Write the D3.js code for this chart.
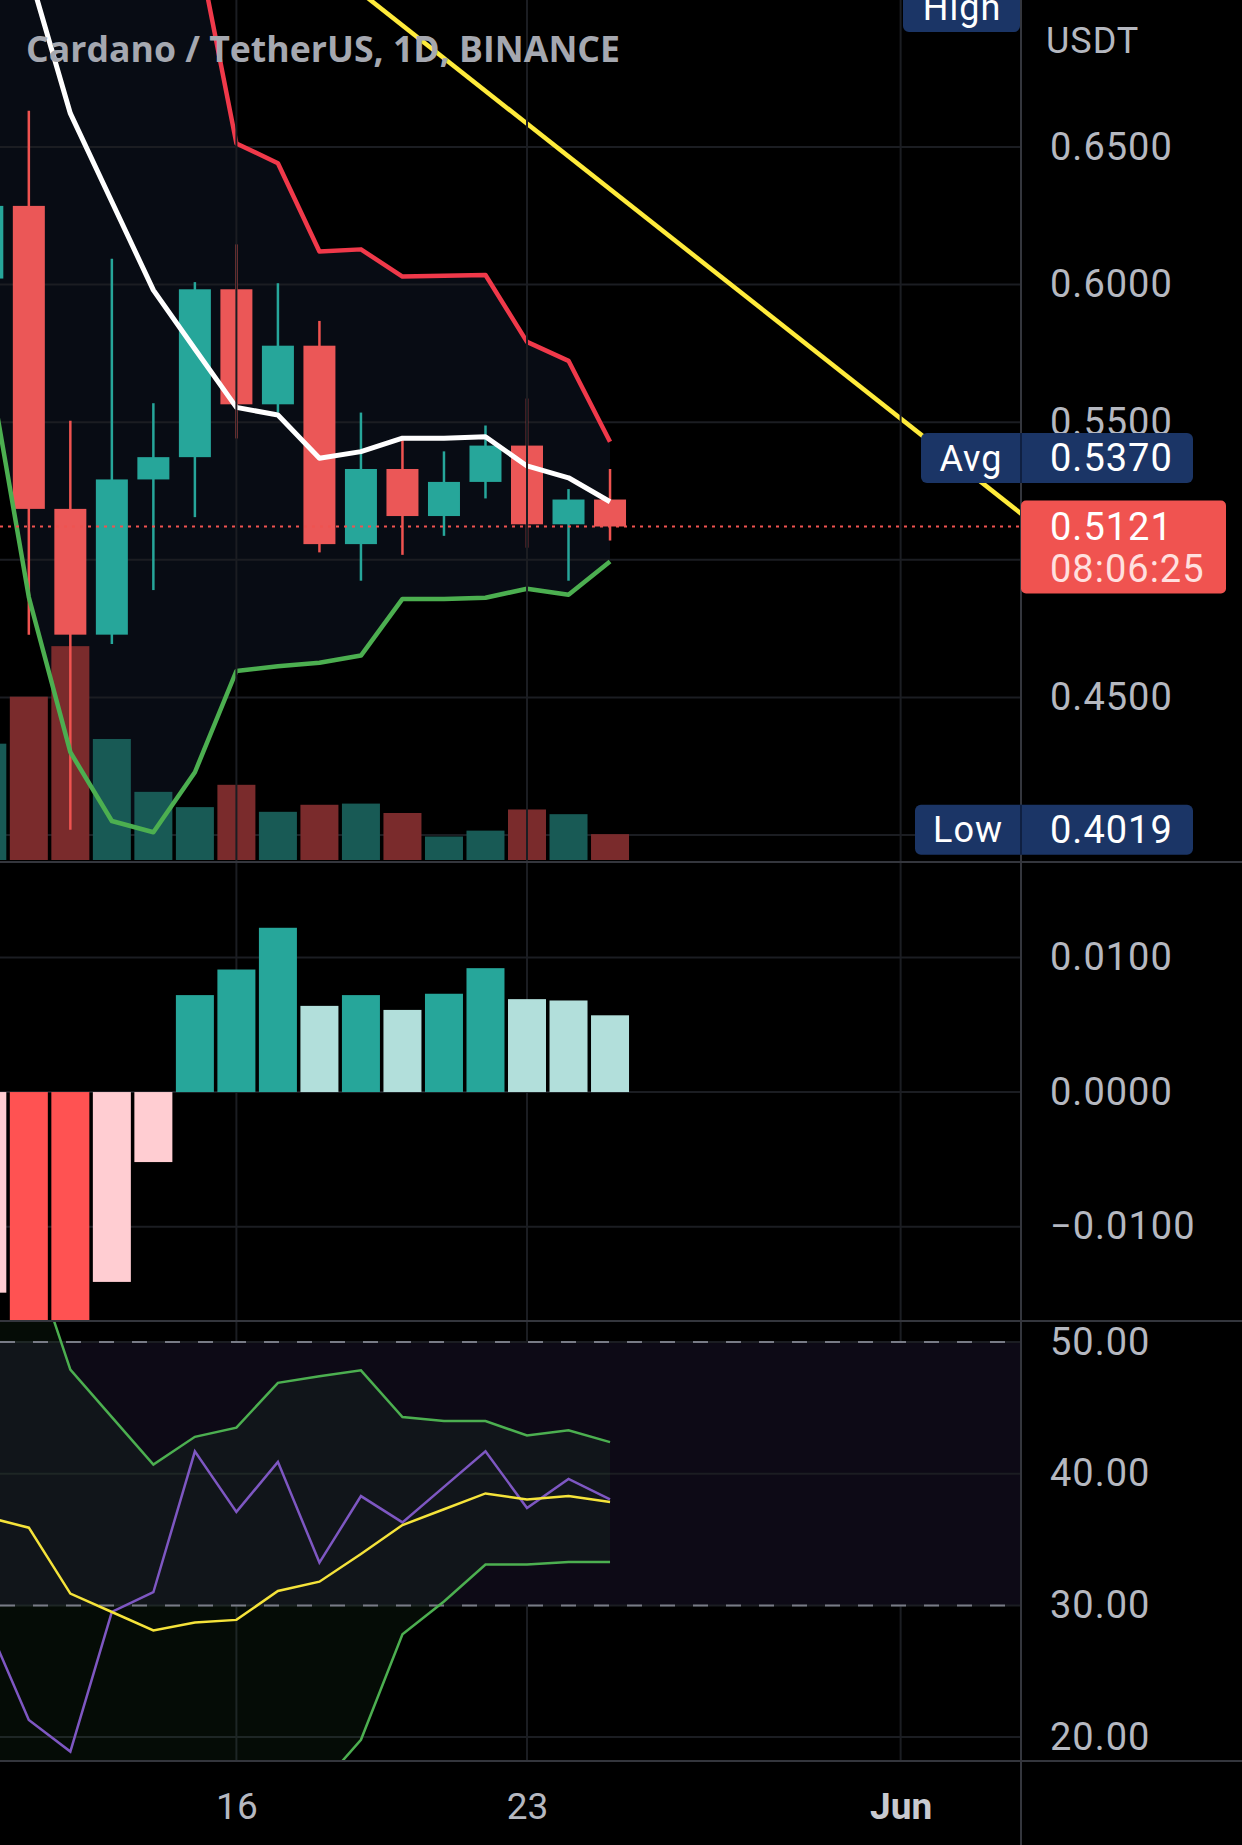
<!DOCTYPE html>
<html><head><meta charset="utf-8">
<script src="https://cdn.jsdelivr.net/npm/d3@7"></script>
<style>html,body{margin:0;padding:0;background:#000;}svg{display:block}</style>
</head><body>
<script>
// ---------- DATA ----------
const dates = ["2022-05-10","2022-05-11","2022-05-12","2022-05-13","2022-05-14","2022-05-15","2022-05-16","2022-05-17","2022-05-18","2022-05-19","2022-05-20","2022-05-21","2022-05-22","2022-05-23","2022-05-24","2022-05-25"];
const openP  = [0.6022,0.6286,0.5185,0.4728,0.5292,0.5373,0.5983,0.5565,0.5778,0.5057,0.5330,0.5159,0.5283,0.5415,0.5129,0.5219];
const highP  = [0.6400,0.6632,0.5505,0.6094,0.5569,0.6009,0.6146,0.6005,0.5868,0.5535,0.5450,0.5394,0.5488,0.5586,0.5257,0.5330];
const lowP   = [0.5950,0.4728,0.4019,0.4694,0.4890,0.5155,0.5441,0.5535,0.5027,0.4924,0.5018,0.5087,0.5223,0.5044,0.4924,0.5070];
const closeP = [0.6286,0.5185,0.4728,0.5292,0.5373,0.5983,0.5565,0.5778,0.5057,0.5330,0.5159,0.5283,0.5415,0.5129,0.5219,0.5121];
const volume = [990,1390,1820,1030,580,450,640,410,470,480,400,200,250,430,390,220];
const upperBand = [0.86,0.84,0.82,0.80,0.77,0.728,0.6513,0.6441,0.6120,0.6128,0.6029,0.6032,0.6035,0.5792,0.5723,0.5429];
const midBand   = [0.77,0.7139,0.6622,0.6301,0.5980,0.5766,0.5554,0.5526,0.5369,0.5393,0.5442,0.5442,0.5447,0.5341,0.5298,0.5211];
const lowerBand = [0.5736,0.4864,0.4301,0.4051,0.4010,0.4228,0.4596,0.4613,0.4626,0.4652,0.4858,0.4858,0.4862,0.4895,0.4873,0.4994];
const macdHist  = [-0.0149,-0.0178,-0.0192,-0.0141,-0.0052,0.0072,0.0091,0.0122,0.0064,0.0072,0.0061,0.0073,0.0092,0.0069,0.0068,0.0057];
const rsi       = [28.6,21.3,18.9,29.5,31.0,41.7,37.1,40.9,33.25,38.3,36.3,39.0,41.7,37.4,39.6,38.05];
const rsiMA     = [36.7,35.9,30.9,29.5,28.1,28.7,28.9,31.1,31.8,33.9,36.1,37.3,38.5,38.05,38.3,37.85];
const rsiUpper  = [60.0,57.3,47.9,44.3,40.7,42.8,43.5,46.9,47.4,47.85,44.3,44.0,44.0,42.9,43.3,42.4];
const rsiLower  = [13.4,14.5,13.9,14.7,15.5,14.6,14.3,15.3,16.2,19.8,27.8,30.3,33.1,33.1,33.3,33.3];
const trendDates = ["2022-05-18","2022-06-05"];
const trendPrices = [0.7180,0.5037];
const priceGrid = [0.65,0.60,0.55,0.50,0.45,0.40];
const priceTickLabels = [0.65,0.60,0.55,0.45];
const macdTicks = [0.01,0,-0.01];
const rsiTicks = [50,40,30,20];
const rsiBandLevels = [50,30];
const timeTicks = ["2022-05-16","2022-05-23","2022-06-01"];
const lastPrice = 0.5121, avgPrice = 0.5370, lowPrice = 0.4019, highPrice = 0.7009;
const countdown = "08:06:25";
const title = "Cardano / TetherUS, 1D, BINANCE";

// ---------- LAYOUT ----------
const W = 1242, H = 1845, plotR = 1021, axisX = 1050;
const P = {top:0, bot:862}, M = {top:862, bot:1321}, R = {top:1321, bot:1761};

const x = d3.scaleUtc().domain([new Date("2022-05-16"), new Date("2022-05-23")]).range([236.4, 527]);
const yP = d3.scaleLinear().domain([0.40, 0.65]).range([835, 147]);
const yV = d3.scaleLinear().domain([0, 2000]).range([860, 860-235]);
const yM = d3.scaleLinear().domain([-0.01, 0.01]).range([1226.7, 957.4]);
const yR = d3.scaleLinear().domain([20, 50]).range([1737.1, 1342]);

const data = dates.map((d,i)=>({date:new Date(d), o:openP[i], h:highP[i], l:lowP[i], c:closeP[i], v:volume[i],
  up:upperBand[i], mid:midBand[i], lo:lowerBand[i], hist:macdHist[i], rsi:rsi[i], ma:rsiMA[i], ru:rsiUpper[i], rl:rsiLower[i]}));

const TEAL="#26a69a", RED="#ef5350", GRID="#1b1d22", SEP="#34363d", AXT="#b5b8c0";

const svg = d3.select("body").append("svg").attr("width",W).attr("height",H).style("background","#000");
const defs = svg.append("defs");
function clip(id, y0, y1){ defs.append("clipPath").attr("id",id).append("rect").attr("x",0).attr("y",y0).attr("width",plotR).attr("height",y1-y0); }
clip("cp",P.top,P.bot); clip("cm",M.top,M.bot); clip("cr",R.top,R.bot);

// ---------- PRICE PANE ----------
const gp = svg.append("g").attr("clip-path","url(#cp)");
gp.append("path").datum(data).attr("fill","#080c14")
  .attr("d", d3.area().x(d=>x(d.date)).y0(d=>yP(d.lo)).y1(d=>yP(d.up)));
gp.selectAll(".hg").data(priceGrid).join("line").attr("x1",0).attr("x2",plotR)
  .attr("y1",d=>yP(d)).attr("y2",d=>yP(d)).attr("stroke",GRID).attr("stroke-width",2);
const vgrid = svg.append("g");
vgrid.selectAll("line").data(timeTicks).join("line").attr("x1",d=>x(new Date(d))).attr("x2",d=>x(new Date(d)))
  .attr("y1",0).attr("y2",R.bot).attr("stroke",GRID).attr("stroke-width",2);
const bw = 38;
gp.selectAll(".vol").data(data).join("rect").attr("x",d=>x(d.date)-bw/2).attr("width",bw)
  .attr("y",d=>yV(d.v)).attr("height",d=>yV(0)-yV(d.v))
  .attr("fill",d=>d.c>=d.o?"#185a55":"#7a2b2c");
gp.selectAll(".wick").data(data).join("line").attr("x1",d=>x(d.date)).attr("x2",d=>x(d.date))
  .attr("y1",d=>yP(d.h)).attr("y2",d=>yP(d.l)).attr("stroke",d=>d.c>=d.o?TEAL:RED).attr("stroke-width",2.5);
const cw = 32;
gp.selectAll(".body").data(data).join("rect").attr("x",d=>x(d.date)-cw/2).attr("width",cw)
  .attr("y",d=>yP(Math.max(d.o,d.c))).attr("height",d=>Math.max(1,Math.abs(yP(d.o)-yP(d.c))))
  .attr("fill",d=>d.c>=d.o?TEAL:"#eb5757");
const ln = key => d3.line().x(d=>x(d.date)).y(d=>yP(d[key]));
gp.append("path").datum(data).attr("d",ln("up")).attr("fill","none").attr("stroke","#f0394a").attr("stroke-width",4.5).attr("stroke-linejoin","round");
gp.append("path").datum(data).attr("d",ln("lo")).attr("fill","none").attr("stroke","#4caf50").attr("stroke-width",4.5).attr("stroke-linejoin","round");
gp.append("path").datum(data).attr("d",ln("mid")).attr("fill","none").attr("stroke","#ffffff").attr("stroke-width",5).attr("stroke-linejoin","round");
gp.append("line").attr("x1",x(new Date(trendDates[0]))).attr("y1",yP(trendPrices[0]))
  .attr("x2",x(new Date(trendDates[1]))).attr("y2",yP(trendPrices[1])).attr("stroke","#ffeb3b").attr("stroke-width",4.5);
gp.append("line").attr("x1",0).attr("x2",plotR).attr("y1",yP(lastPrice)).attr("y2",yP(lastPrice))
  .attr("stroke",RED).attr("stroke-width",2).attr("stroke-dasharray","3,5");

// ---------- MACD PANE ----------
const gm = svg.append("g").attr("clip-path","url(#cm)");
gm.selectAll(".hg").data(macdTicks).join("line").attr("x1",0).attr("x2",plotR)
  .attr("y1",d=>yM(d)).attr("y2",d=>yM(d)).attr("stroke",GRID).attr("stroke-width",2);
gm.selectAll(".hb").data(data).join("rect").attr("x",d=>x(d.date)-bw/2).attr("width",bw)
  .attr("y",d=>yM(Math.max(0,d.hist))).attr("height",d=>Math.abs(yM(d.hist)-yM(0)))
  .attr("fill",(d,i)=>{ const prev = i>0?data[i-1].hist:d.hist-0.001; const rising = d.hist>prev;
     if(d.hist>=0) return rising?TEAL:"#b2dfdb"; return rising?"#ffcdd2":"#ff5252"; });

// ---------- RSI PANE ----------
const gr = svg.append("g").attr("clip-path","url(#cr)");
gr.append("rect").attr("x",0).attr("width",plotR).attr("y",yR(rsiBandLevels[0])).attr("height",yR(rsiBandLevels[1])-yR(rsiBandLevels[0])).attr("fill","#0d0a16");
gr.selectAll(".hg").data(rsiTicks).join("line").attr("x1",0).attr("x2",plotR)
  .attr("y1",d=>yR(d)).attr("y2",d=>yR(d)).attr("stroke",GRID).attr("stroke-width",2);
gr.append("path").datum(data).attr("fill","rgba(76,175,80,0.07)")
  .attr("d",d3.area().x(d=>x(d.date)).y0(d=>yR(d.rl)).y1(d=>yR(d.ru)));
gr.selectAll(".dl").data(rsiBandLevels).join("line").attr("x1",0).attr("x2",plotR)
  .attr("y1",d=>yR(d)).attr("y2",d=>yR(d)).attr("stroke","#787b86").attr("stroke-width",2).attr("stroke-dasharray","15,18");
const lr = key => d3.line().x(d=>x(d.date)).y(d=>yR(d[key]));
gr.append("path").datum(data).attr("d",lr("ru")).attr("fill","none").attr("stroke","#4caf50").attr("stroke-width",2.5);
gr.append("path").datum(data).attr("d",lr("rl")).attr("fill","none").attr("stroke","#4caf50").attr("stroke-width",2.5);
gr.append("path").datum(data).attr("d",lr("rsi")).attr("fill","none").attr("stroke","#7e57c2").attr("stroke-width",2.5);
gr.append("path").datum(data).attr("d",lr("ma")).attr("fill","none").attr("stroke","#f5e33a").attr("stroke-width",2.5);

// ---------- SEPARATORS ----------
[P.bot, M.bot, R.bot].forEach(yy=>svg.append("line").attr("x1",0).attr("x2",W).attr("y1",yy).attr("y2",yy).attr("stroke",SEP).attr("stroke-width",2));
svg.append("line").attr("x1",plotR).attr("x2",plotR).attr("y1",0).attr("y2",H).attr("stroke",SEP).attr("stroke-width",2);

// ---------- AXES ----------
const FONT = "Roboto, 'Liberation Sans', sans-serif";
function styleAxis(g){ g.select(".domain").remove(); g.selectAll(".tick line").remove();
  g.selectAll("text").attr("fill",AXT).style("font-family",FONT).style("font-size","38px").style("letter-spacing","1px").attr("text-anchor","start"); }
svg.append("g").attr("transform",`translate(${axisX},0)`)
  .call(d3.axisRight(yP).tickValues(priceTickLabels).tickFormat(d3.format(".4f")).tickSize(0).tickPadding(0)).call(styleAxis);
svg.append("g").attr("transform",`translate(${axisX},0)`)
  .call(d3.axisRight(yM).tickValues(macdTicks).tickFormat(d3.format(".4f")).tickSize(0).tickPadding(0)).call(styleAxis);
svg.append("g").attr("transform",`translate(${axisX},0)`)
  .call(d3.axisRight(yR).tickValues(rsiTicks).tickFormat(d3.format(".2f")).tickSize(0).tickPadding(0)).call(styleAxis);
const gt = svg.append("g").attr("transform","translate(0,1790)")
  .call(d3.axisBottom(x).tickValues(timeTicks.map(d=>new Date(d))).tickSize(0).tickPadding(0)
  .tickFormat(d=>d.getUTCDate()===1 ? d3.utcFormat("%b")(d) : d.getUTCDate()));
gt.select(".domain").remove();
gt.selectAll("text").attr("y",29).attr("dy",0).attr("fill",AXT).style("font-family",FONT).style("font-size","37px")
  .style("font-weight",d=>d.getUTCDate()===1?"bold":"normal").style("fill",d=>d.getUTCDate()===1?"#c8cad0":AXT);

svg.append("text").attr("x",1046).attr("y",53).text("USDT").attr("fill",AXT)
  .style("font-family",FONT).style("font-size","36px").style("letter-spacing","1px");

// ---------- LABELS ----------
const NAVY = "#1b3566";
function tagBox(yc, leftX, leftText, valText){
  const g = svg.append("g");
  g.append("rect").attr("x",leftX).attr("y",yc-25).attr("width",1193-leftX).attr("height",50).attr("rx",6).attr("fill",NAVY);
  g.append("line").attr("x1",plotR).attr("x2",plotR).attr("y1",yc-25).attr("y2",yc+25).attr("stroke","#0f2042").attr("stroke-width",2);
  g.append("text").attr("x",(leftX+plotR)/2).attr("y",yc).attr("dy","0.35em").attr("text-anchor","middle").text(leftText)
    .attr("fill","#fff").style("font-family",FONT).style("font-size","36px").style("letter-spacing","1px");
  g.append("text").attr("x",axisX).attr("y",yc).attr("dy","0.35em").text(valText)
    .attr("fill","#fff").style("font-family",FONT).style("font-size","38px").style("letter-spacing","1px");
}
tagBox(yP(avgPrice), 921, "Avg", d3.format(".4f")(avgPrice));
tagBox(yP(lowPrice), 915, "Low", d3.format(".4f")(lowPrice));
const hy = yP(highPrice);
svg.append("rect").attr("x",903).attr("y",hy-25).attr("width",plotR-903-1).attr("height",50).attr("rx",6).attr("fill",NAVY);
svg.append("text").attr("x",(903+plotR)/2).attr("y",hy).attr("dy","0.35em").attr("text-anchor","middle").text("High")
  .attr("fill","#fff").style("font-family",FONT).style("font-size","36px").style("letter-spacing","1px");
const ly = yP(lastPrice);
svg.append("rect").attr("x",plotR).attr("y",ly-26).attr("width",1226-plotR).attr("height",93).attr("rx",5).attr("fill","#f05350");
svg.append("text").attr("x",axisX).attr("y",ly).attr("dy","0.36em").text(d3.format(".4f")(lastPrice))
  .attr("fill","#fff").style("font-family",FONT).style("font-size","38px").style("letter-spacing","1px");
svg.append("text").attr("x",axisX).attr("y",ly+42).attr("dy","0.36em").text(countdown)
  .attr("fill","#ffe0df").style("font-family",FONT).style("font-size","38px").style("letter-spacing","1px");

// ---------- TITLE ----------
svg.append("text").attr("x",26).attr("y",62).text(title).attr("fill","#a5a8b0")
  .attr("textLength",594).attr("lengthAdjust","spacingAndGlyphs")
  .style("font-family","'Open Sans', sans-serif").style("font-weight",700).style("font-size","36px");
</script>
</body></html>
